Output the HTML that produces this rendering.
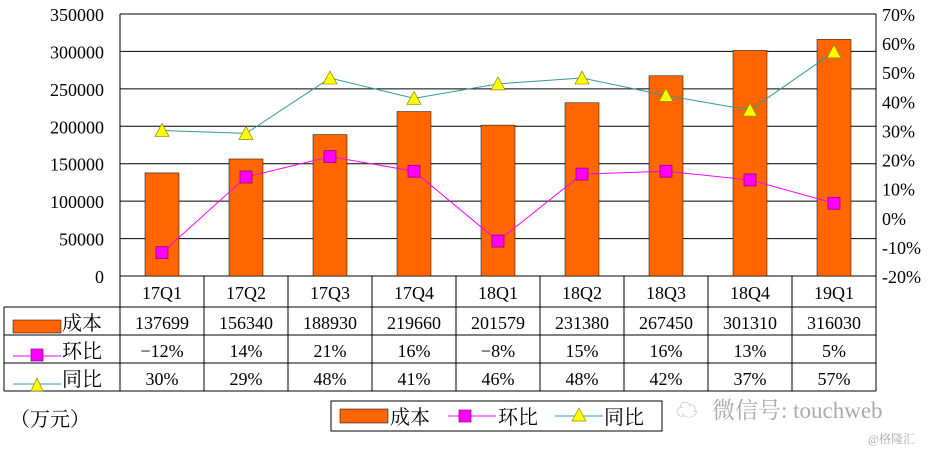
<!DOCTYPE html>
<html><head><meta charset="utf-8"><style>
body{margin:0;background:#fff;}
svg text{font-family:"Liberation Serif","Noto Serif CJK SC",serif;}
</style></head><body>
<svg id="c" width="930" height="450" xmlns="http://www.w3.org/2000/svg"></svg>
<script>
const categories=["17Q1","17Q2","17Q3","17Q4","18Q1","18Q2","18Q3","18Q4","19Q1"];
const costValues=[137699,156340,188930,219660,201579,231380,267450,301310,316030];
const qoqValues=[-12,14,21,16,-8,15,16,13,5];
const yoyValues=[30,29,48,41,46,48,42,37,57];
const leftTicks=[0,50000,100000,150000,200000,250000,300000,350000];
const rightTicks=[-20,-10,0,10,20,30,40,50,60,70];
const NS="http://www.w3.org/2000/svg";
const svg=document.getElementById('c');
const L=120,R=876,T=14,B=276,cw=(R-L)/categories.length;
const yL=v=>B-(v/350000)*(B-T);
const yR=v=>B-((v+20)/90)*(B-T);
const xC=i=>L+cw*(i+0.5);
function el(t,a,txt){const e=document.createElementNS(NS,t);for(const k in a)e.setAttribute(k,a[k]);if(txt!==undefined)e.textContent=txt;svg.appendChild(e);return e;}
leftTicks.forEach(v=>{
 const g=el('line',{x1:L,x2:R,y1:yL(v),y2:yL(v),stroke:'#000','stroke-width':1});
 
 
 const t=el('text',{x:104,y:yL(v)+7,'text-anchor':'end','font-size':18},String(v));
 
 
});
rightTicks.forEach(v=>{
 const t=el('text',{x:882,y:yR(v)+7,'font-size':18},v+'%');
 
 
});
el('line',{x1:L,x2:L,y1:T,y2:B,stroke:'#000'});
el('line',{x1:R,x2:R,y1:T,y2:B,stroke:'#000'});
costValues.forEach((v,i)=>{
 const b=el('rect',{x:xC(i)-17,y:yL(v),width:34,height:B-yL(v),fill:'#FF6600',stroke:'#000','stroke-width':0.5});
 
 
});
el('polyline',{points:yoyValues.map((v,i)=>xC(i)+','+yR(v)).join(' '),fill:'none',stroke:'#339999','stroke-width':1});
el('polyline',{points:qoqValues.map((v,i)=>xC(i)+','+yR(v)).join(' '),fill:'none',stroke:'#FF00FF','stroke-width':1});
yoyValues.forEach((v,i)=>{
 const x=xC(i),y=yR(v);
 const p=el('polygon',{points:`${x},${y-7} ${x-7},${y+6} ${x+7},${y+6}`,fill:'#FFFF00',stroke:'#888800','stroke-width':0.7});
 
 
});
qoqValues.forEach((v,i)=>{
 const x=xC(i),y=yR(v);
 const p=el('rect',{x:x-6,y:y-6,width:12,height:12,fill:'#FF00FF',stroke:'#800080','stroke-width':0.7});
 
 
});
el('line',{x1:L,x2:R,y1:307,y2:307,stroke:'#000'});
[335,363,391].forEach(y=>el('line',{x1:4,x2:R,y1:y,y2:y,stroke:'#000'}));
el('line',{x1:4,x2:R,y1:307,y2:307,stroke:'#000'});
el('line',{x1:4,x2:4,y1:307,y2:391,stroke:'#000'});
for(let i=0;i<=categories.length;i++)el('line',{x1:L+cw*i,x2:L+cw*i,y1:276,y2:391,stroke:'#000'});
categories.forEach((c,i)=>{
 const t=el('text',{x:xC(i),y:299,'text-anchor':'middle','font-size':18},c);
 
 
 el('text',{x:xC(i),y:329,'text-anchor':'middle','font-size':18},String(costValues[i]));
 el('text',{x:xC(i),y:357,'text-anchor':'middle','font-size':18},(qoqValues[i]<0?'−'+(-qoqValues[i]):qoqValues[i])+'%');
 el('text',{x:xC(i),y:385,'text-anchor':'middle','font-size':18},yoyValues[i]+'%');
});
el('rect',{x:13,y:320,width:48,height:13,fill:'#FF6600',stroke:'#000','stroke-width':0.5});
el('text',{x:62,y:330,'font-size':20},'成本');
el('line',{x1:13,x2:61,y1:356,y2:356,stroke:'#FF00FF'});
el('rect',{x:31,y:349,width:12,height:12,fill:'#FF00FF',stroke:'#800080','stroke-width':0.7});
el('text',{x:62,y:358,'font-size':20},'环比');
el('line',{x1:13,x2:61,y1:384,y2:384,stroke:'#339999'});
el('polygon',{points:'37,378 31,391 43,391',fill:'#FFFF00',stroke:'#888800','stroke-width':0.7});
el('text',{x:62,y:386,'font-size':20},'同比');
el('text',{x:10,y:426,'font-size':20},'（万元）');
const lg=el('rect',{x:331,y:401,width:331,height:30,fill:'#fff',stroke:'#000'});


el('rect',{x:340,y:409,width:48,height:14,fill:'#FF6600',stroke:'#000','stroke-width':0.5});
el('text',{x:390,y:424,'font-size':20},'成本');
el('line',{x1:448,x2:496,y1:416,y2:416,stroke:'#FF00FF'});
el('rect',{x:459,y:410,width:12,height:12,fill:'#FF00FF',stroke:'#800080','stroke-width':0.7});
el('text',{x:498,y:424,'font-size':20},'环比');
el('line',{x1:555,x2:603,y1:416,y2:416,stroke:'#339999'});
el('polygon',{points:'579,408 572,421 586,421',fill:'#FFFF00',stroke:'#888800','stroke-width':0.7});
el('text',{x:604,y:424,'font-size':20},'同比');
const w=el('text',{x:712,y:418,'font-size':23,fill:'#aaa','font-family':'Liberation Sans, Noto Sans CJK SC, sans-serif'},'微信号: touchweb');


el('text',{x:676,y:418,'font-size':22,fill:'#bbb'},'☁');
el('text',{x:868,y:443,'font-size':12,fill:'#aaa'},'@格隆汇');
</script>
</body></html>
